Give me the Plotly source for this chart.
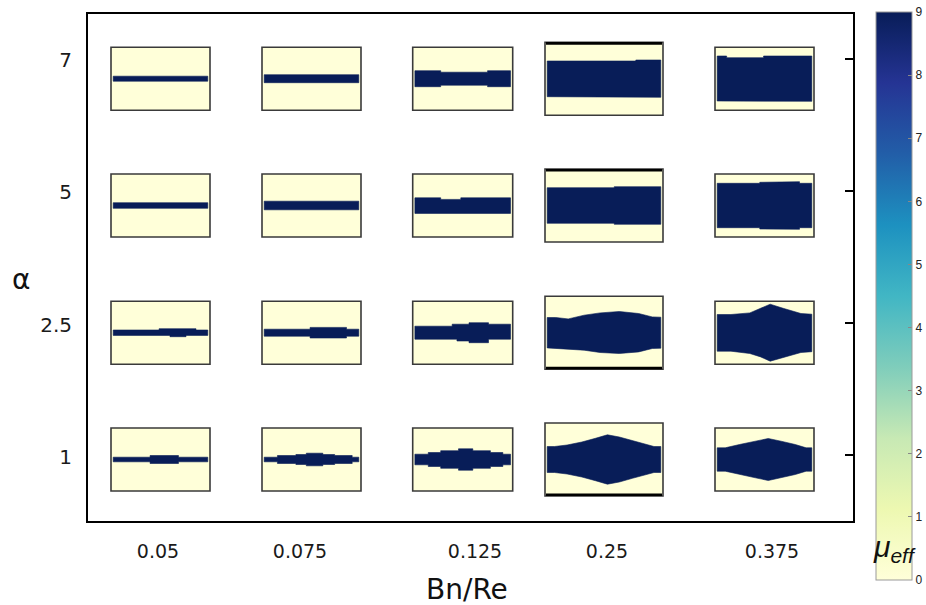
import plotly.graph_objects as go

# ---------------- data ----------------
bn_re_labels = ["0.05", "0.075", "0.125", "0.25", "0.375"]
alpha_labels = ["7", "5", "2.5", "1"]
mu_ticks = [0, 1, 2, 3, 4, 5, 6, 7, 8, 9]
mu_plug = 9  # value of mu_eff inside the (dark) plug band
mu_fluid = 0  # value of mu_eff outside the band

# band profiles: x = breakpoints (fraction of panel width),
# up / dn = distance of band edge above / below panel centre line
# "step": piecewise constant segments, "smooth": vertices joined linearly
a7_b1 = dict(kind="step", x=[0, 1], up=[2.5], dn=[2.5])
a7_b2 = dict(kind="step", x=[0, 1], up=[4.0], dn=[4.0])
a7_b3 = dict(kind="step", x=[0, 0.27, 0.76, 1], up=[8, 6.5, 8], dn=[8, 6.5, 8])
a7_b4 = dict(kind="step", x=[0, 0.78, 1], up=[17.7, 18.7], dn=[18.0, 18.6])
a7_b5 = dict(kind="step", x=[0, 0.1, 0.49, 1], up=[22.7, 21.0, 22.7], dn=[22.3, 22.0, 22.6])

a5_b1 = dict(kind="step", x=[0, 1], up=[2.8], dn=[2.8])
a5_b2 = dict(kind="step", x=[0, 1], up=[4.3], dn=[4.3])
a5_b3 = dict(kind="step", x=[0, 0.27, 0.48, 1], up=[7.7, 6.1, 7.7], dn=[7.9, 7.3, 7.9])
a5_b4 = dict(kind="step", x=[0, 0.59, 1], up=[17.8, 18.8], dn=[17.8, 18.8])
a5_b5 = dict(kind="step", x=[0, 0.45, 0.59, 0.87, 1], up=[22.2, 23.2, 23.8, 22.2], dn=[22.2, 23.5, 23.8, 22.2])

a25_b1 = dict(kind="step", x=[0, 0.485, 0.6, 0.77, 0.875, 1],
              up=[2.7, 4.0, 4.0, 4.0, 2.7], dn=[2.7, 2.7, 4.0, 2.7, 2.7])
a25_b2 = dict(kind="step", x=[0, 0.485, 0.87, 1], up=[3.5, 5.3, 3.5], dn=[3.5, 5.3, 3.5])
a25_b3 = dict(kind="step", x=[0, 0.39, 0.44, 0.566, 0.77, 1],
              up=[6.5, 8.5, 8.5, 10.0, 8.5], dn=[6.5, 6.5, 8.3, 10.0, 6.5])
a25_b4 = dict(kind="smooth", x=[0, 0.075, 0.185, 0.325, 0.465, 0.635, 0.805, 0.925, 1],
              up=[15.2, 15.2, 13.8, 17.5, 19.8, 21.2, 19.2, 15.8, 15.5],
              dn=[15.2, 15.2, 16.2, 17.5, 19.8, 20.8, 19.2, 15.8, 15.5])
a25_b5 = dict(kind="smooth", x=[0, 0.145, 0.345, 0.46, 0.56, 0.705, 0.885, 1],
              up=[18.2, 18.2, 19.8, 24.2, 28.5, 24.2, 19.2, 18.5],
              dn=[18.5, 18.5, 20.8, 24.2, 28.5, 24.2, 19.8, 19.0])

a1_b1 = dict(kind="step", x=[0, 0.39, 0.69, 1], up=[2.3, 4.0, 2.3], dn=[2.3, 4.0, 2.3])
a1_b2 = dict(kind="step", x=[0, 0.14, 0.335, 0.445, 0.62, 0.745, 0.93, 1],
             up=[2.3, 4.0, 5.0, 6.3, 5.0, 4.0, 2.3], dn=[2.3, 4.0, 5.0, 6.3, 5.0, 4.0, 2.3])
a1_b3 = dict(kind="step", x=[0, 0.14, 0.27, 0.456, 0.606, 0.79, 0.92, 1],
             up=[5.3, 7.0, 8.8, 10.7, 8.8, 7.0, 5.3], dn=[5.3, 7.0, 8.8, 10.7, 8.8, 7.0, 5.3])
a1_b4 = dict(kind="smooth", x=[0, 0.065, 0.175, 0.305, 0.425, 0.53, 0.635, 0.75, 0.85, 0.94, 1],
             up=[13, 13, 14.5, 17.5, 21.2, 24.7, 22.5, 18.8, 15.5, 13, 13],
             dn=[13, 13, 14.5, 17.5, 21.2, 24.7, 22.5, 18.8, 15.5, 13, 13])
a1_b5 = dict(kind="smooth", x=[0, 0.085, 0.236, 0.404, 0.54, 0.675, 0.825, 0.94, 1],
             up=[11.7, 11.7, 15.0, 18.3, 21.0, 18.3, 15.0, 11.7, 11.7],
             dn=[11.7, 11.7, 15.0, 18.3, 21.0, 18.3, 15.0, 11.7, 11.7])

rows = [
    [a7_b1, a7_b2, a7_b3, a7_b4, a7_b5],
    [a5_b1, a5_b2, a5_b3, a5_b4, a5_b5],
    [a25_b1, a25_b2, a25_b3, a25_b4, a25_b5],
    [a1_b1, a1_b2, a1_b3, a1_b4, a1_b5],
]

# ---------------- layout constants (pixel-like plot coordinates) ----------------
W, H = 926, 605
FL, FT, FR, FB = 88, 14, 853, 521           # frame edges
col_cx = [160.5, 311.5, 462.7, 604.0, 764.5]
col_w = [99, 99, 100, 118, 99]
col_h = [63, 63, 63, 73, 63]
row_cy = [78.7, 205.5, 332.7, 459.5]
x_label_pos = [158, 300, 475, 607, 772]
y_label_pos = [60, 192, 325, 457]
y_tick_pos = [59, 191, 323, 455]
INSET = 2.2

YLGNBU = [[0.0, "#ffffd9"], [0.125, "#edf8b1"], [0.25, "#c7e9b4"], [0.375, "#7fcdbb"],
          [0.5, "#41b6c4"], [0.625, "#1d91c0"], [0.75, "#225ea8"], [0.875, "#253494"],
          [1.0, "#081d58"]]


def cs_color(v):
    t = (v - mu_ticks[0]) / (mu_ticks[-1] - mu_ticks[0])
    best = min(YLGNBU, key=lambda s: abs(s[0] - t))
    return best[1]


PLUG = cs_color(mu_plug)
FLUID = cs_color(mu_fluid)

fig = go.Figure()
shapes = []

for r, row in enumerate(rows):
    for c, prof in enumerate(row):
        cx, cy, w, h = col_cx[c], row_cy[r], col_w[c], col_h[c]
        x0, x1 = cx - w / 2, cx + w / 2
        y0, y1 = cy - h / 2, cy + h / 2
        shapes.append(dict(type="rect", xref="x", yref="y", x0=x0, x1=x1, y0=y0, y1=y1,
                           fillcolor=FLUID, line=dict(color="#3a3a3a", width=1.6), layer="below"))
        if c == 3:
            ey = y0 + 1.2 if r < 2 else y1 - 1.2
            shapes.append(dict(type="line", xref="x", yref="y", x0=x0 + 1, x1=x1 - 1, y0=ey, y1=ey,
                               line=dict(color="black", width=2.6)))
        bx0 = x0 + INSET
        bw = w - 2 * INSET
        X, Y = [], []
        if prof["kind"] == "step":
            e = prof["x"]
            n = len(prof["up"])
            for i in range(n):
                X += [bx0 + e[i] * bw, bx0 + e[i + 1] * bw]
                Y += [cy - prof["up"][i], cy - prof["up"][i]]
            for i in reversed(range(n)):
                X += [bx0 + e[i + 1] * bw, bx0 + e[i] * bw]
                Y += [cy + prof["dn"][i], cy + prof["dn"][i]]
        else:
            for xf, u in zip(prof["x"], prof["up"]):
                X.append(bx0 + xf * bw)
                Y.append(cy - u)
            for xf, d in reversed(list(zip(prof["x"], prof["dn"]))):
                X.append(bx0 + xf * bw)
                Y.append(cy + d)
        X.append(X[0])
        Y.append(Y[0])
        fig.add_trace(go.Scatter(x=X, y=Y, mode="lines", fill="toself", fillcolor=PLUG,
                                 line=dict(color=PLUG, width=0.6), hoverinfo="skip",
                                 showlegend=False))

# dummy trace carrying the colour bar (and the right-hand tick axis)
cb_top, cb_bot, cb_left, cb_th = 12, 580, 876, 36
fig.add_trace(go.Scatter(
    x=[None], y=[None], mode="markers", yaxis="y2", showlegend=False, hoverinfo="skip",
    marker=dict(color=[mu_fluid], cmin=mu_ticks[0], cmax=mu_ticks[-1], colorscale=YLGNBU,
                showscale=True,
                colorbar=dict(
                    x=(cb_left - FL) / (FR - FL), xanchor="left", xpad=0, ypad=0,
                    y=1 - ((cb_top + cb_bot) / 2 - FT) / (FB - FT), yanchor="middle",
                    len=cb_bot - cb_top, lenmode="pixels",
                    thickness=cb_th, thicknessmode="pixels",
                    outlinewidth=1, outlinecolor="#9a9a9a",
                    tickvals=mu_ticks, ticktext=[str(v) for v in mu_ticks],
                    ticks="inside", ticklen=4, tickcolor="#888", tickwidth=1,
                    tickfont=dict(family="Liberation Sans, Arial, sans-serif", size=12, color="#222"),
                ))))

fig.update_layout(
    width=W, height=H,
    margin=dict(l=FL, r=W - FR, t=FT, b=H - FB, pad=0, autoexpand=False),
    paper_bgcolor="white", plot_bgcolor="white",
    shapes=shapes,
    showlegend=False,
    xaxis=dict(range=[FL, FR], showgrid=False, zeroline=False, showline=True, mirror=True,
               linecolor="black", linewidth=2, ticks="", automargin=False,
               tickvals=x_label_pos, ticktext=bn_re_labels, ticklabelstandoff=12,
               tickfont=dict(family="DejaVu Sans, sans-serif", size=19, color="#1a1a1a")),
    yaxis=dict(range=[FB, FT], showgrid=False, zeroline=False, showline=True, mirror=True,
               linecolor="black", linewidth=2, ticks="", automargin=False,
               tickvals=y_label_pos, ticktext=alpha_labels, ticklabelstandoff=10,
               tickfont=dict(family="DejaVu Sans, sans-serif", size=20, color="#1a1a1a")),
    yaxis2=dict(range=[FB, FT], overlaying="y", side="right", showgrid=False, zeroline=False,
                showline=False, ticks="inside", ticklen=8, tickwidth=2, tickcolor="black",
                tickvals=y_tick_pos, showticklabels=False, automargin=False),
    annotations=[
        dict(text="α", xref="paper", yref="paper", x=(21 - FL) / (FR - FL),
             y=1 - (279 - FT) / (FB - FT), showarrow=False, xanchor="center", yanchor="middle",
             font=dict(family="DejaVu Sans, sans-serif", size=28, color="#111")),
        dict(text="Bn/Re", xref="paper", yref="paper", x=(467 - FL) / (FR - FL),
             y=1 - (589 - FT) / (FB - FT), showarrow=False, xanchor="center", yanchor="middle",
             font=dict(family="DejaVu Sans, sans-serif", size=28, color="#111")),
        dict(text="<i>μ<sub>eff</sub></i>", xref="paper", yref="paper",
             x=(894 - FL) / (FR - FL), y=1 - (548 - FT) / (FB - FT), showarrow=False,
             xanchor="center", yanchor="middle",
             font=dict(family="Liberation Sans, Arial, sans-serif", size=30, color="#111")),
    ],
)

fig.write_html("out.html", config={"displayModeBar": False},
               post_script="document.body.style.margin='0';")
